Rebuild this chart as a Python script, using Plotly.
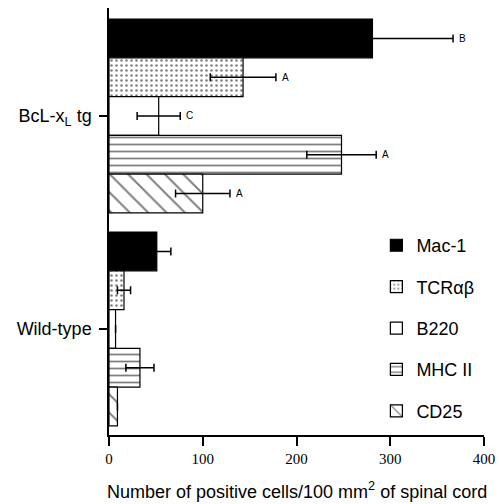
import plotly.graph_objects as go

groups = ["BcL-x<sub>L</sub> tg", "Wild-type"]
markers = ["Mac-1", "TCRαβ", "B220", "MHC II", "CD25"]
values = {
    "Mac-1":  [281, 51],
    "TCRαβ":  [143, 16],
    "B220":   [53, 7],
    "MHC II": [248, 33],
    "CD25":   [100, 9],
}
errors = {
    "Mac-1":  [86, 15],
    "TCRαβ":  [35, 7],
    "B220":   [23, 0],
    "MHC II": [37, 15],
    "CD25":   [29, 0],
}
letters = {
    "Mac-1":  ["B", ""],
    "TCRαβ":  ["A", ""],
    "B220":   ["C", ""],
    "MHC II": ["A", ""],
    "CD25":   ["A", ""],
}
x_ticks = [0, 100, 200, 300, 400]
x_title = "Number of positive cells/100 mm<sup>2</sup> of spinal cord"

patterns = {
    "Mac-1":  dict(shape="", bgcolor="black"),
    "TCRαβ":  dict(shape=".", fgcolor="black", bgcolor="white", size=5, solidity=0.2),
    "B220":   dict(shape="", bgcolor="white"),
    "MHC II": dict(shape="-", fgcolor="black", bgcolor="white", size=7, solidity=0.25),
    "CD25":   dict(shape="\\", fgcolor="black", bgcolor="white", size=13, solidity=0.15),
}
colors = {"Mac-1": "black", "TCRαβ": "white", "B220": "white", "MHC II": "white", "CD25": "white"}

BARGAP = 0.09

fig = go.Figure()
for m in markers:
    fig.add_trace(go.Bar(
        y=groups, x=values[m], orientation="h", name=m,
        legendgroup=m,
        marker=dict(color=colors[m], line=dict(color="black", width=1.2),
                    pattern=patterns[m]),
        error_x=dict(type="data", array=errors[m], visible=True,
                     color="black", thickness=1.5, width=4),
    ))

fig.update_layout(
    barmode="group", bargap=BARGAP, bargroupgap=0,
    width=499, height=504,
    margin=dict(l=109, r=15, t=8, b=69),
    paper_bgcolor="white", plot_bgcolor="white",
    showlegend=True,
    legend=dict(x=0.713, y=0.487, xanchor="left", yanchor="top",
                font=dict(size=18, family="Liberation Sans", color="black"),
                tracegroupgap=15, bgcolor="rgba(0,0,0,0)"),
    xaxis=dict(range=[0, 400], tickvals=x_ticks, showgrid=False, zeroline=False,
               automargin=False,
               showline=True, linecolor="black", linewidth=1.5,
               ticks="outside", ticklen=9, tickwidth=1.5, tickcolor="black",
               tickfont=dict(family="Liberation Serif", size=15, color="black")),
    yaxis=dict(type="category", categoryorder="array", categoryarray=groups,
               automargin=False, ticklabelstandoff=4,
               range=[1.498, -0.507], showgrid=False, zeroline=False,
               showline=True, linecolor="black", linewidth=1.5,
               ticks="outside", ticklen=8, tickwidth=1.5, tickcolor="black",
               tickfont=dict(family="Liberation Sans", size=18, color="black")),
)

fig.add_annotation(x=0.5, y=-0.129, xref="paper", yref="paper", text=x_title,
                   showarrow=False, xanchor="center", yanchor="middle",
                   font=dict(family="Liberation Sans", size=18, color="black"))

n = len(markers)
group_w = 1 - BARGAP
bar_w = group_w / n
for i, m in enumerate(markers):
    for gi, (v, e, t) in enumerate(zip(values[m], errors[m], letters[m])):
        if t:
            yoff = gi - group_w / 2 + bar_w * (i + 0.5)
            fig.add_annotation(x=v + e, y=yoff, yref="y", text=t, showarrow=False,
                               xanchor="left", xshift=4,
                               font=dict(size=10, family="Liberation Sans", color="black"))

# remove the default 8px page margin so the 499x504 figure fills the window exactly
fig.write_html("out.html",
               config={"displayModeBar": False},
               post_script="document.body.style.margin='0';document.body.style.overflow='hidden';")
